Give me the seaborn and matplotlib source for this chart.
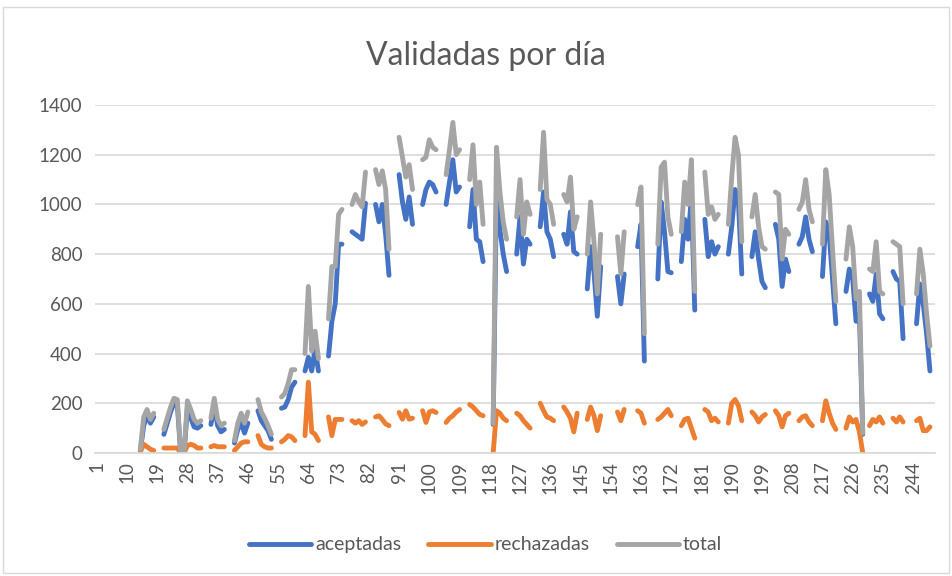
import pandas as pd
import matplotlib
matplotlib.use("Agg")
import matplotlib.pyplot as plt
from matplotlib.patches import Rectangle
import seaborn as sns

# --------------------------------
# Datos
# --------------------------------
n_dias = 250

dias = [14, 15, 16, 17, 18,
        21, 22, 23, 24, 25, 26, 27,
        28, 29, 30, 31, 32,
        35, 36, 37, 38, 39,
        42, 43, 44, 45, 46,
        49, 50, 51, 52, 53,
        56, 57, 58, 59, 60,
        63, 64, 65, 66, 67,
        70, 71, 72, 73, 74,
        77, 78, 79, 80, 81,
        84, 85, 86, 87, 88,
        91, 92, 93, 94, 95,
        98, 99, 100, 101, 102,
        105, 106, 107, 108, 109,
        112, 113, 114, 115, 116,
        119, 120, 121, 122, 123,
        126, 127, 128, 129, 130,
        133, 134, 135, 136, 137,
        140, 141, 142, 143, 144,
        147, 148, 149, 150, 151,
        156, 157, 158,
        162, 163, 164,
        168, 169, 170, 171, 172,
        175, 176, 177, 178, 179,
        182, 183, 184, 185, 186,
        189, 190, 191, 192, 193,
        196, 197, 198, 199, 200,
        203, 204, 205, 206, 207,
        210, 211, 212, 213, 214,
        217, 218, 219, 220, 221,
        224, 225, 226, 227, 228, 229,
        231, 232, 233, 234, 235,
        238, 239, 240, 241,
        245, 246, 247, 248, 249]

aceptadas = [10, 110, 150, 120, 145,
             75, 120, 165, 200, 195, 0, 0,
             180, 140, 105, 100, 110,
             115, 190, 110, 85, 95,
             40, 95, 120, 80, 120,
             170, 130, 110, 90, 55,
             180, 185, 215, 265, 285,
             330, 385, 330, 420, 330,
             390, 530, 600, 840, 840,
             890, 880, 870, 860, 1005,
             1000, 930, 1000, 880, 715,
             1120, 1010, 940, 1030, 920,
             1000, 1060, 1090, 1080, 1050,
             1000, 1090, 1180, 1050, 1070,
             910, 1060, 860, 850, 770,
             115, 1050, 900, 800, 730,
             800, 950, 760, 860, 840,
             910, 1050, 890, 860, 790,
             880, 840, 970, 810, 800,
             660, 830, 730, 550, 750,
             710, 600, 720,
             830, 920, 370,
             700, 1010, 890, 730, 725,
             770, 940, 860, 1030, 575,
             940, 790, 850, 800, 830,
             800, 910, 1060, 1010, 720,
             790, 890, 780, 690, 665,
             920, 860, 670, 780, 730,
             840, 870, 950, 860, 810,
             710, 930, 880, 700, 520,
             650, 740, 700, 530, 560, 75,
             640, 610, 720, 560, 540,
             730, 700, 690, 460,
             520, 680, 600, 480, 330]

rechazadas = [5, 35, 25, 15, 10,
              20, 20, 20, 20, 20, 0, 0,
              30, 35, 30, 20, 20,
              25, 30, 25, 25, 25,
              10, 25, 40, 45, 45,
              70, 35, 25, 20, 20,
              45, 55, 70, 65, 50,
              70, 285, 85, 75, 50,
              145, 70, 135, 135, 135,
              130, 120, 130, 115, 125,
              145, 150, 135, 117, 110,
              163, 136, 170, 136, 140,
              170, 123, 165, 170, 163,
              123, 140, 150, 165, 175,
              195, 185, 170, 155, 150,
              0, 170, 160, 140, 130,
              160, 150, 130, 115, 100,
              200, 170, 145, 140, 130,
              185, 165, 140, 85, 160,
              135, 185, 150, 90, 150,
              165, 130, 175,
              170, 160, 120,
              135, 145, 160, 175, 150,
              110, 135, 140, 100, 60,
              175, 165, 130, 140, 125,
              120, 200, 215, 190, 130,
              165, 150, 125, 145, 155,
              170, 150, 105, 150, 160,
              130, 145, 150, 125, 110,
              130, 210, 160, 120, 95,
              100, 145, 125, 135, 85, 0,
              110, 135, 125, 145, 120,
              140, 125, 145, 125,
              130, 140, 90, 90, 105]

total = [15, 145, 175, 135, 160,
         95, 140, 185, 220, 215, 0, 0,
         210, 175, 135, 120, 130,
         140, 220, 135, 110, 120,
         50, 120, 160, 120, 165,
         215, 165, 140, 110, 75,
         225, 240, 280, 335, 335,
         400, 670, 410, 490, 380,
         540, 750, 750, 960, 980,
         1000, 1040, 1010, 990, 1130,
         1140, 1080, 1135, 1060, 820,
         1270, 1190, 1110, 1160, 1060,
         1180, 1190, 1260, 1230, 1220,
         1120, 1220, 1330, 1200, 1220,
         1100, 1240, 1000, 1090, 920,
         120, 1230, 1050, 930, 860,
         950, 1100, 880, 1010, 960,
         1060, 1290, 1020, 1000, 920,
         1040, 1010, 1110, 900, 950,
         800, 1010, 850, 640, 880,
         870, 720, 890,
         1000, 1070, 480,
         840, 1150, 1170, 950, 880,
         890, 1090, 1000, 1180, 650,
         1130, 960, 990, 940, 960,
         920, 1110, 1270, 1200, 850,
         950, 1040, 910, 830, 820,
         1050, 1040, 780, 900, 880,
         980, 1010, 1100, 980, 930,
         840, 1140, 1040, 820, 610,
         780, 910, 830, 620, 650, 80,
         740, 730, 850, 650, 640,
         850, 840, 830, 600,
         640, 820, 720, 560, 430]

series = ["aceptadas", "rechazadas", "total"]
colores = ["#4472C4", "#ED7D31", "#A5A5A5"]

# tabla larga; cada tramo de días seguidos se dibuja aparte (huecos = fines de semana)
base = pd.DataFrame({"dia": dias, "aceptadas": aceptadas,
                     "rechazadas": rechazadas, "total": total})
base["tramo"] = (base["dia"].diff() != 1).cumsum()
df = base.melt(id_vars=["dia", "tramo"], value_vars=series,
               var_name="serie", value_name="valor")

# --------------------------------
# Gráfico
# --------------------------------
sns.set_style("white")
plt.rcParams["font.family"] = ["Lato", "DejaVu Sans"]
gris_texto = "#595959"

fig = plt.figure(figsize=(9.53, 5.76), dpi=100)
ax = fig.add_axes([95 / 953, 1 - 453 / 576, 840 / 953, 348 / 576])

sns.lineplot(data=df, x="dia", y="valor", hue="serie", units="tramo",
             estimator=None, hue_order=series, palette=colores,
             linewidth=3.5, solid_capstyle="round", solid_joinstyle="round",
             ax=ax)

ax.set_xlim(0.5, n_dias + 0.5)
ax.set_ylim(0, 1400)
ax.set_xticks(range(1, n_dias + 1, 9))
ax.set_yticks(range(0, 1401, 200))
ax.tick_params(axis="x", labelrotation=90, length=0, pad=6,
               labelsize=13.5, labelcolor=gris_texto)
ax.tick_params(axis="y", length=0, pad=9, labelsize=13.5, labelcolor=gris_texto)
ax.set_xlabel("")
ax.set_ylabel("")

ax.yaxis.grid(True, color="#d9d9d9", linewidth=1.2)
ax.set_axisbelow(True)
for lado in ["top", "left", "right"]:
    ax.spines[lado].set_visible(False)
ax.spines["bottom"].set_color("#d9d9d9")
ax.spines["bottom"].set_linewidth(1.2)

sns.move_legend(ax, "center", bbox_to_anchor=(0.465, -0.264), ncol=3,
                frameon=False, title=None, fontsize=14,
                handlelength=3.2, handletextpad=0.2, columnspacing=1.4)
for t in ax.get_legend().get_texts():
    t.set_color(gris_texto)

fig.text(486 / 953, 1 - 65 / 576, "Validadas por día", ha="center",
         va="baseline", fontsize=23, color=gris_texto)

# borde del área del gráfico
fig.patches.append(Rectangle((0.003, 0.006), 0.993, 0.981, transform=fig.transFigure,
                             fill=False, edgecolor="#d9d9d9", linewidth=1))

plt.savefig("out.png", dpi=100)
